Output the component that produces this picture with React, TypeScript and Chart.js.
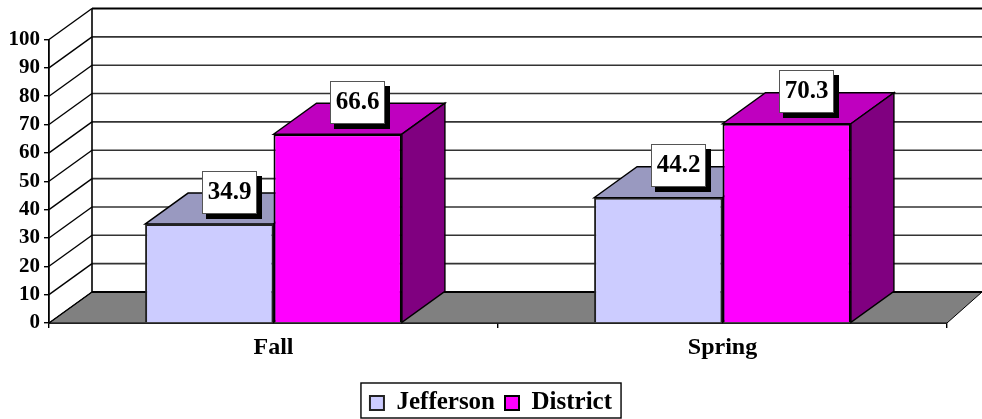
import React, { useEffect, useRef } from "react";
import { Chart, registerables } from "chart.js";

Chart.register(...registerables);

const categories = ["Fall", "Spring"];
const jefferson = [34.9, 44.2];
const district = [66.6, 70.3];
const seriesNames = ["Jefferson", "District"];
const FONT = '"Liberation Serif"';

const DEPTH_X = 43;
const DEPTH_Y = 31;

const frontColors = ["#CCCCFF", "#FF00FF"];
const topColors = ["#9999C0", "#BF00BF"];
const sideColors = ["#666699", "#800080"];

const poly = (ctx: CanvasRenderingContext2D, pts: number[][], fill: string | null, stroke: string, lw: number) => {
  ctx.beginPath();
  pts.forEach(([x, y], i) => (i ? ctx.lineTo(x, y) : ctx.moveTo(x, y)));
  ctx.closePath();
  if (fill) {
    ctx.fillStyle = fill;
    ctx.fill();
  }
  ctx.lineWidth = lw;
  ctx.strokeStyle = stroke;
  ctx.stroke();
};

const seg = (ctx: CanvasRenderingContext2D, x1: number, y1: number, x2: number, y2: number, lw: number, c = "#000") => {
  ctx.beginPath();
  ctx.moveTo(x1, y1);
  ctx.lineTo(x2, y2);
  ctx.lineWidth = lw;
  ctx.strokeStyle = c;
  ctx.stroke();
};

const box3d = {
  id: "box3d",
  beforeDraw(chart: any) {
    // centre the legend on the whole canvas rather than on the padded layout
    chart.legend.right = chart.width;
    chart.legend.adjustHitBoxes();
  },
  beforeDatasetsDraw(chart: any) {
    const { ctx, chartArea: a, scales } = chart;
    const y = scales.y;
    const wallL = a.left + DEPTH_X;
    const cw = chart.width;
    ctx.save();
    poly(
      ctx,
      [
        [a.left, a.bottom],
        [a.right, a.bottom],
        [Math.min(a.right + DEPTH_X, cw), a.bottom - DEPTH_Y],
        [wallL, a.bottom - DEPTH_Y],
      ],
      "#808080",
      "#000",
      1
    );
    y.ticks.forEach((t: any) => {
      const p = y.getPixelForValue(t.value);
      seg(ctx, wallL, p - DEPTH_Y, cw, p - DEPTH_Y, t.value === 100 || t.value === 0 ? 2 : 1.6, t.value % 100 ? "#333" : "#000");
      seg(ctx, a.left, p, wallL, p - DEPTH_Y, 1.4);
    });
    seg(ctx, wallL, a.top - DEPTH_Y, wallL, a.bottom - DEPTH_Y, 1.6);
    chart.data.datasets.forEach((_: any, di: number) => {
      const meta = chart.getDatasetMeta(di);
      meta.data.forEach((b: any) => {
        const half = b.width / 2;
        const l = b.x - half;
        const r = b.x + half;
        const top = b.y;
        const base = b.base;
        poly(
          ctx,
          [
            [l, top],
            [r, top],
            [r + DEPTH_X, top - DEPTH_Y],
            [l + DEPTH_X, top - DEPTH_Y],
          ],
          topColors[di],
          "#000",
          1.4
        );
        poly(
          ctx,
          [
            [r, top],
            [r + DEPTH_X, top - DEPTH_Y],
            [r + DEPTH_X, base - DEPTH_Y],
            [r, base],
          ],
          sideColors[di],
          "#000",
          1.4
        );
      });
    });
    ctx.restore();
  },
  afterDraw(chart: any) {
    const { ctx } = chart;
    ctx.save();
    chart.data.datasets.forEach((ds: any, di: number) => {
      const meta = chart.getDatasetMeta(di);
      meta.data.forEach((b: any, i: number) => {
        const cx = b.x + DEPTH_X * 0.46;
        const cy = b.y - 32;
        const w = 55;
        const h = 43;
        const x0 = Math.round(cx - w / 2);
        const y0 = Math.round(cy - h / 2);
        ctx.fillStyle = "#000";
        ctx.fillRect(x0 + 4, y0 + 5, w + 1, h);
        ctx.fillStyle = "#fff";
        ctx.fillRect(x0, y0, w, h);
        ctx.lineWidth = 1;
        ctx.strokeStyle = "#555";
        ctx.strokeRect(x0 + 0.5, y0 + 0.5, w - 1, h - 1);
        ctx.fillStyle = "#000";
        ctx.font = `bold 25px ${FONT}`;
        ctx.textAlign = "center";
        ctx.textBaseline = "middle";
        ctx.fillText(ds.data[i].toFixed(1), x0 + w / 2, y0 + h / 2);
      });
    });
    const hit = chart.legend.legendHitBoxes;
    if (hit && hit.length) {
      const last = hit[hit.length - 1];
      const left = hit[0].left - 9;
      const right = last.left + last.width + 9;
      ctx.lineWidth = 1.4;
      ctx.strokeStyle = "#000";
      ctx.strokeRect(left, chart.legend.top + 2.5, right - left, 35);
    }
    ctx.restore();
  },
};

export default function App() {
  const ref = useRef<HTMLCanvasElement | null>(null);
  useEffect(() => {
    if (!ref.current) return;
    const chart = new Chart(ref.current, {
      type: "bar",
      plugins: [box3d],
      data: {
        labels: categories,
        datasets: [
          {
            label: seriesNames[0],
            data: jefferson,
            backgroundColor: frontColors[0],
            borderColor: "#222",
            borderWidth: 2,
            barPercentage: 1,
            categoryPercentage: 0.572,
          },
          {
            label: seriesNames[1],
            data: district,
            backgroundColor: frontColors[1],
            borderColor: "#000",
            borderWidth: 2,
            barPercentage: 1,
            categoryPercentage: 0.572,
          },
        ],
      },
      options: {
        responsive: false,
        animation: false,
        layout: { padding: { top: 39.5, right: 35, left: 0, bottom: -6.5 } },
        plugins: {
          tooltip: { enabled: false },
          title: { display: false },
          legend: {
            display: true,
            position: "bottom",
            labels: {
              boxWidth: 14,
              boxHeight: 14,
              padding: 10,
              color: "#000",
              font: { family: FONT, weight: "bold", size: 25 },
            },
          },
        },
        scales: {
          x: {
            offset: true,
            afterFit: (s: any) => {
              s.height = 57.5;
            },
            grid: {
              drawOnChartArea: false,
              drawTicks: true,
              tickLength: 5,
              color: "#000",
              lineWidth: 1.4,
              offset: true,
            },
            border: { display: true, color: "#000", width: 1.8 },
            ticks: {
              color: "#000",
              padding: 5,
              maxRotation: 0,
              autoSkip: false,
              font: { family: FONT, weight: "bold", size: 24 },
            },
          },
          y: {
            min: 0,
            max: 100,
            afterFit: (s: any) => {
              s.width = 49;
            },
            grid: {
              drawOnChartArea: false,
              drawTicks: true,
              tickLength: 5,
              color: "#000",
              lineWidth: 1.4,
            },
            border: { display: true, color: "#000", width: 1.8 },
            ticks: {
              stepSize: 10,
              autoSkip: false,
              color: "#000",
              padding: 4,
              font: { family: FONT, weight: "bold", size: 21 },
            },
          },
        },
      },
    } as any);
    return () => chart.destroy();
  }, []);
  return (
    <div style={{ position: "fixed", left: 0, top: 0, width: 982, height: 419 }}>
      <canvas ref={ref} width={982} height={419} style={{ display: "block", width: 982, height: 419 }} />
    </div>
  );
}
